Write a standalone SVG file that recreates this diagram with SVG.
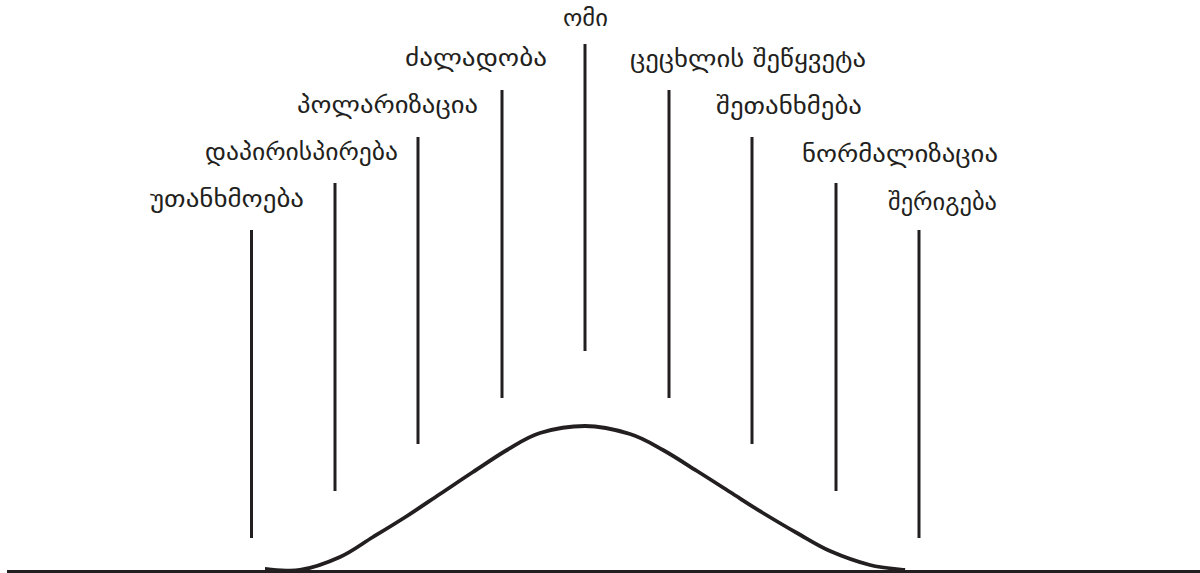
<svg xmlns="http://www.w3.org/2000/svg" width="1200" height="573" viewBox="0 0 1200 573">
<style>
.lbl{font-family:"DejaVu Sans","Noto Sans",sans-serif;font-size:24px;fill:#231f20;text-anchor:middle}
.bar{stroke:#231f20;stroke-width:3;fill:none}
</style>
<rect width="1200" height="573" fill="#fff"/>
<g id="connectors">
<line class="bar" x1="251.5" y1="230" x2="251.5" y2="538"/>
<line class="bar" x1="335" y1="183" x2="335" y2="491"/>
<line class="bar" x1="418" y1="137" x2="418" y2="444"/>
<line class="bar" x1="502" y1="90" x2="502" y2="398"/>
<line class="bar" x1="585" y1="44" x2="585" y2="351"/>
<line class="bar" x1="669" y1="90" x2="669" y2="398"/>
<line class="bar" x1="752" y1="137" x2="752" y2="444"/>
<line class="bar" x1="836" y1="183" x2="836" y2="491"/>
<line class="bar" x1="919" y1="230" x2="919" y2="538"/>
</g>
<g id="axis"><line x1="7" y1="571.5" x2="1200" y2="571.5" stroke="#231f20" stroke-width="3"/></g>
<g id="curve"><path fill="none" stroke="#231f20" stroke-width="3.8" d="M265,569 C270.8,569.2 287.5,572 300,570 C312.5,568 327.8,562.5 340,557 C352.2,551.5 361.8,543.8 373,537 C384.2,530.2 395.8,523.2 407,516 C418.2,508.8 429,501.3 440,494 C451,486.7 461.8,479.3 473,472 C484.2,464.7 495.8,456.5 507,450 C518.2,443.5 527,437 540,433 C553,429 570,426 585,426 C600,426 617,430 630,434 C643,438 651.8,443.8 663,450 C674.2,456.2 685.8,464 697,471 C708.2,478 719,485 730,492 C741,499 751.8,506.2 763,513 C774.2,519.8 785.8,526.7 797,533 C808.2,539.3 817.8,545.7 830,551 C842.2,556.3 857.5,561.8 870,565 C882.5,568.2 899.2,569.2 905,570"/></g>
<g id="n-omi"><text class="lbl" x="585.5" y="26" textLength="45" lengthAdjust="spacingAndGlyphs">ომი</text></g>
<g id="n-dzaladoba"><text class="lbl" x="476" y="66" textLength="142" lengthAdjust="spacingAndGlyphs">ძალადობა</text></g>
<g id="n-polarizacia"><text class="lbl" x="387.5" y="113" textLength="181" lengthAdjust="spacingAndGlyphs">პოლარიზაცია</text></g>
<g id="n-dapirispireba"><text class="lbl" x="301.5" y="160" textLength="193" lengthAdjust="spacingAndGlyphs">დაპირისპირება</text></g>
<g id="n-utankhmoeba"><text class="lbl" x="227" y="207" textLength="154" lengthAdjust="spacingAndGlyphs">უთანხმოება</text></g>
<g id="n-cecxlis"><text class="lbl" x="748" y="67" textLength="236" lengthAdjust="spacingAndGlyphs">ცეცხლის შეწყვეტა</text></g>
<g id="n-shetankhmeba"><text class="lbl" x="789" y="114" textLength="146" lengthAdjust="spacingAndGlyphs">შეთანხმება</text></g>
<g id="n-normalizacia"><text class="lbl" x="900" y="162" textLength="196" lengthAdjust="spacingAndGlyphs">ნორმალიზაცია</text></g>
<g id="n-sherigeba"><text class="lbl" x="942.5" y="210" textLength="109" lengthAdjust="spacingAndGlyphs">შერიგება</text></g>
</svg>
